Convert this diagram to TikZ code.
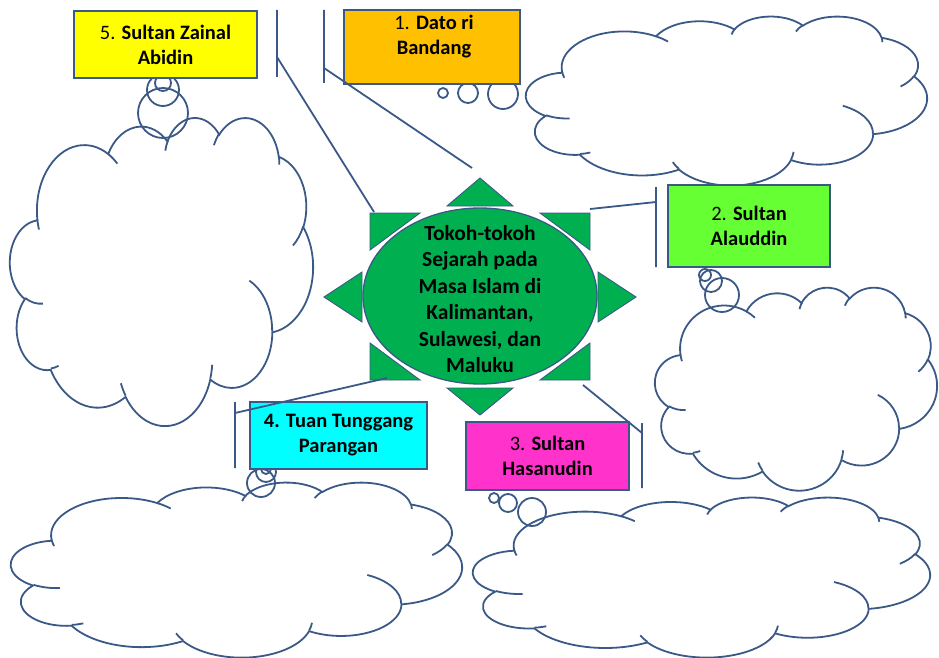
\documentclass[tikz,border=0pt]{standalone}
\usepackage{fontspec}
\setmainfont{Carlito}
\usepackage{tikz}
\usetikzlibrary{shapes.geometric}

\definecolor{lineblue}{RGB}{59,89,134}
\definecolor{sungreen}{RGB}{0,176,80}
\definecolor{boxyellow}{RGB}{255,255,0}
\definecolor{boxorange}{RGB}{255,192,0}
\definecolor{boxgreen}{RGB}{102,255,51}
\definecolor{boxcyan}{RGB}{0,255,255}
\definecolor{boxpink}{RGB}{255,51,204}

% cloud outline in a box: left, top, width, height (px)
\newcommand{\thoughtcloud}[4]{%
	\pgfmathsetmacro\cxs{#3/432}\pgfmathsetmacro\cys{#4/432}
	\draw[cloudline] ({#1+39*\cxs},{#2+143.7*\cys})
	\foreach \rw/\rh/\sa/\da in {67.53/91.90/-190.49/123.78, 53.33/72.67/-144.10/89.95,
		43.65/59.45/-145.81/99.72, 48.57/65.95/-130.99/117.24, 53.33/72.73/-78.71/109.03,
		67.75/92.20/-46.27/130.27, 57.85/78.67/0.63/114.03, 67.52/92.15/22.45/115.17,
		77.20/105.43/66.24/75.71, 43.60/59.18/-274.94/146.74, 43.45/59.45/-246.83/152.52}
	{ arc[x radius={\rw*\cxs*1pt}, y radius={\rh*\cys*1pt},
		start angle={-pang(\sa,\rw,\rh)}, end angle={-pang(\sa+\da,\rw,\rh)}] } -- cycle;
	\draw[cloudline]
	\foreach \px/\py/\rw/\rh/\sa/\da in {46.93/261.77/43.45/59.45/86.74/26.43,
		69.28/348.99/43.60/59.18/73.61/11.45, 164.78/390.90/67.52/92.15/137.62/14.08,
		288.27/347.51/67.52/92.15/6.45/16.00, 341.29/229.54/57.85/78.67/-70.29/70.92,
		417.98/153.54/53.33/72.73/30.32/27.75, 383.24/54.26/48.57/65.95/-13.74/14.86,
		290.78/39.52/48.57/65.95/-149.18/18.20, 221.41/47.20/43.65/59.45/-163.49/17.69,
		140.00/51.92/67.53/91.90/-66.71/12.32, 41.27/157.89/67.53/91.90/157.65/11.86}
	{ ({#1+\px*\cxs},{#2+\py*\cys}) arc[x radius={\rw*\cxs*1pt}, y radius={\rh*\cys*1pt},
		start angle={-pang(\sa,\rw,\rh)}, end angle={-pang(\sa+\da,\rw,\rh)}] };
}

\begin{document}
\begin{tikzpicture}[x=1pt, y=-1pt,
	declare function={pang(\va,\vw,\vh)=atan2(\vw*sin(\va),\vh*cos(\va))-360*round((atan2(\vw*sin(\va),\vh*cos(\va))-\va)/360);},
	box/.style={draw=lineblue, line width=1.7pt, inner sep=0pt, align=center, font=\fontsize{20.5}{25}\selectfont},
	boxtext/.style={align=center, inner sep=0pt, font=\fontsize{20.5}{25}\selectfont},
	ray/.style={draw=lineblue, fill=sungreen, line width=0.9pt},
	callout/.style={draw=lineblue, line width=1.8pt},
	cloudline/.style={draw=lineblue, line width=1.8pt}]
	\useasboundingbox (0,0) rectangle (939,658);

	\thoughtcloud{526}{16}{401}{169}
	\thoughtcloud{655}{287}{282}{203}
	\thoughtcloud{10}{117}{303}{308}
	\thoughtcloud{11}{482}{451}{175}
	\thoughtcloud{473}{497}{457}{160}

	\foreach \bx/\by/\br in {443/93/5, 468/93/10, 503/94/15, 705/275/6, 711/281/11, 722/295/17,
		163/83/8, 163/90/16, 163/113/25, 266/469/5, 266/472/10, 261/483/14, 494/498/5, 508/503/9, 532/512/14}
	\draw[cloudline] (\bx,\by) circle[radius=\br pt];

	\foreach \ax/\ay/\bx/\by/\cx/\cy in {447/206/513/206/480/178, 447/388/513/388/480/415,
		362/272/362/322/324/297, 598/272/598/322/636/297, 370/213/420/213/370/250,
		540/213/590/213/590/250, 370/343/370/380/420/380, 590/343/590/380/540/380}
	\draw[ray] (\ax,\ay) -- (\bx,\by) -- (\cx,\cy) -- cycle;

	\node[ellipse, draw=lineblue, fill=sungreen, line width=1.3pt, minimum width=234, minimum height=176] (sun) at (480,296) {};
	\node[align=center, inner sep=0pt, font=\fontsize{21.5}{26.5}\selectfont\bfseries] (suntext) at (480,299)
	{Tokoh-tokoh\\Sejarah pada\\Masa Islam di\\Kalimantan,\\Sulawesi, dan\\Maluku};

	\node[box, fill=boxyellow, minimum width=183, minimum height=67] (tokoh5) at (165.5,44.5) {5. \textbf{Sultan Zainal}\\\textbf{Abidin}};
	\node[box, fill=boxorange, minimum width=176, minimum height=74] (tokoh1) at (432,47) {};
	\node[boxtext] (name1) at (434,36.5) {1. \textbf{Dato ri}\\\textbf{Bandang}};
	\node[box, fill=boxgreen, minimum width=162, minimum height=82] (tokoh2) at (749,226) {2. \textbf{Sultan}\\\textbf{Alauddin}};
	\node[box, fill=boxcyan, minimum width=177, minimum height=67] (tokoh4) at (338.5,435.5) {\textbf{4. Tuan Tunggang}\\\textbf{Parangan}};
	\node[box, fill=boxpink, minimum width=163, minimum height=68] (tokoh3) at (547.5,456) {3. \textbf{Sultan}\\\textbf{Hasanudin}};

	\foreach \n/\bx/\ya/\yb/\yc/\rx/\ry in {5/277/10/77/57/374/212, 1/324/10/83/68/472/168,
		2/656/187/267/202/590/209, 4/235/402/468/413/387/378, 3/642/423/488/433/583/385}
	{
	\coordinate (top\n) at (\bx,\ya);
	\coordinate (bot\n) at (\bx,\yb);
	\coordinate (knee\n) at (\bx,\yc);
	\coordinate (tip\n) at (\rx,\ry);
	\draw[callout] (top\n) -- (bot\n) (knee\n) -- (tip\n);
	}

\end{tikzpicture}
\end{document}
